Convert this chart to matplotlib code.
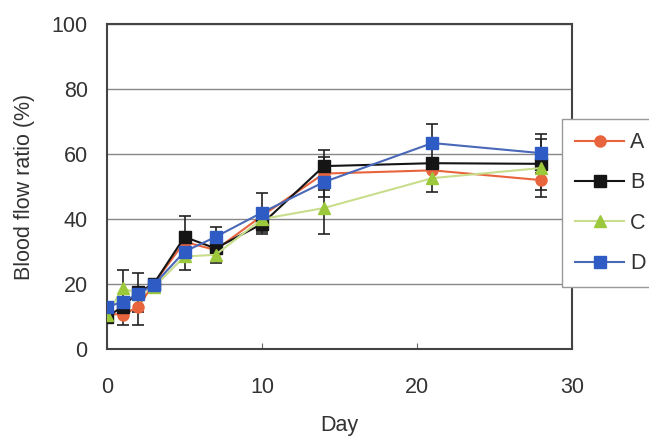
import matplotlib.pyplot as plt

plt.rcParams['font.family'] = ['Liberation Sans', 'DejaVu Sans']

days = [0, 1, 2, 3, 5, 7, 10, 14, 21, 28]
labels = ['A', 'B', 'C', 'D']

a_vals = [11, 10.5, 13, 20, 33, 30.5, 41, 54, 55, 52]
b_vals = [10, 13, 17.5, 20, 34.5, 31, 38.5, 56.3, 57.2, 57]
c_vals = [10.5, 18.8, 17, 19, 28.5, 29, 40, 43.4, 52.6, 55.7]
d_vals = [13, 14.5, 17, 19.7, 30, 34.5, 42, 51.4, 63.4, 60.3]

a_err = [0, 3, 5.5, 0, 0, 0, 0, 5, 0, 3]
b_err = [0, 0, 6, 0, 6.5, 0, 3, 5, 0, 0]
c_err = [0, 5.5, 0, 0, 0, 2.5, 0, 8, 4.3, 9]
d_err = [0, 0, 0, 0, 5.7, 3, 6, 4.6, 6, 6]

series = [
    (a_vals, a_err, '#e8643c', '#e8643c', 'o'),
    (b_vals, b_err, '#151515', '#151515', 's'),
    (c_vals, c_err, '#c8de8c', '#9cc83c', '^'),
    (d_vals, d_err, '#4a68b8', '#2f5cc4', 's'),
]

fig = plt.figure(figsize=(6.49, 4.38), dpi=100)
ax = fig.add_axes([0.165, 0.203, 0.716, 0.742])

handles = []
for (vals, err, lc, mc, mk), lab in zip(series, labels):
    ax.errorbar(days, vals, yerr=err, fmt='none', ecolor='#222222',
                elinewidth=1.2, capsize=4.5, capthick=1.2, zorder=2)
    h, = ax.plot(days, vals, color=lc, lw=1.5, marker=mk, markersize=8,
                 markerfacecolor=mc, markeredgecolor=mc, label=lab, zorder=3)
    handles.append(h)

ax.set_xlim(0, 30)
ax.set_ylim(0, 100)
ax.set_xticks([0, 10, 20, 30])
ax.set_yticks([0, 20, 40, 60, 80, 100])
ax.yaxis.grid(True, color='#888888', lw=1)
ax.set_axisbelow(True)
ax.tick_params(axis='x', direction='in', length=4, pad=20, labelsize=15.5,
               labelcolor='#333333', color='#666666')
ax.tick_params(axis='y', length=0, pad=14, labelsize=15.5, labelcolor='#333333')
for s in ax.spines.values():
    s.set_color('#444444')
    s.set_linewidth(1.5)

ax.set_xlabel('Day', fontsize=15.5, color='#333333', labelpad=12)
ax.set_ylabel('Blood flow ratio (%)', fontsize=15.5, color='#333333', labelpad=12)

leg = fig.legend(handles=handles, loc='upper left',
                 bbox_to_anchor=(0.866, 0.728), borderaxespad=0,
                 fontsize=15.5, handlelength=2.3, labelspacing=0.9,
                 borderpad=0.6, fancybox=False, framealpha=1,
                 edgecolor='#999999', handletextpad=0.25)
for t in leg.get_texts():
    t.set_color('#333333')

fig.savefig('out.png', dpi=100)
